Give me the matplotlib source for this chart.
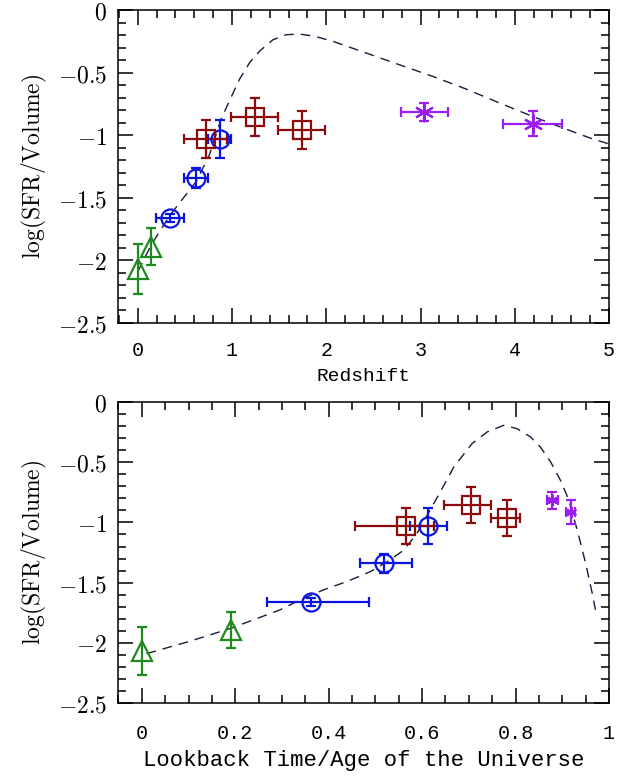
import numpy as np
import matplotlib
matplotlib.use("Agg")
import matplotlib.pyplot as plt
from matplotlib.ticker import MultipleLocator, FuncFormatter

plt.rcParams["mathtext.fontset"] = "cm"

# ---- top panel: redshift ----
tri_z = [0.0, 0.14]
tri_y = [-2.07, -1.89]
tri_yerr = [0.20, 0.15]

circ_z = [0.34, 0.62, 0.87]
circ_y = [-1.66, -1.34, -1.03]
circ_zerr = [0.15, 0.13, 0.12]
circ_yerr = [0.03, 0.08, 0.15]

sq_z = [0.72, 1.24, 1.74]
sq_y = [-1.03, -0.855, -0.96]
sq_zerr = [0.23, 0.25, 0.25]
sq_yerr = [0.15, 0.15, 0.15]

ast_z = [3.04, 4.19]
ast_y = [-0.815, -0.91]
ast_zerr = [0.25, 0.31]
ast_yerr = [0.07, 0.10]

curve_z = [0.0, 0.14, 0.34, 0.62, 0.76, 0.886, 0.99, 1.08, 1.187, 1.293, 1.435, 1.577,
           1.718, 1.878, 2.07, 2.32, 2.71, 3.13, 3.48, 3.83, 4.19, 4.54, 4.79, 5.0]
curve_zy = [-2.09, -1.88, -1.64, -1.37, -1.157, -0.868, -0.697, -0.552, -0.42, -0.328,
            -0.237, -0.197, -0.192, -0.21, -0.25, -0.316, -0.42, -0.53, -0.63, -0.74,
            -0.85, -0.95, -1.02, -1.07]

# ---- bottom panel: lookback time fraction ----
tri_t = [0.0, 0.19]
circ_t = [0.362, 0.518, 0.613]
circ_terr = [[0.094, 0.050, 0.038], [0.124, 0.061, 0.041]]
sq_t = [0.566, 0.704, 0.781]
sq_terr = [[0.110, 0.058, 0.033], [0.060, 0.044, 0.028]]
ast_t = [0.879, 0.918]
ast_terr = [0.011, 0.009]

curve_t = [0.01, 0.10, 0.19, 0.296, 0.339, 0.389, 0.439, 0.489, 0.532, 0.561, 0.589,
           0.639, 0.668, 0.707, 0.739, 0.775, 0.803, 0.832, 0.853, 0.875, 0.896,
           0.914, 0.932, 0.95, 0.964, 0.971]
curve_ty = [-2.09, -1.99, -1.88, -1.726, -1.643, -1.56, -1.491, -1.409, -1.31, -1.229,
            -1.09, -0.746, -0.538, -0.345, -0.249, -0.193, -0.221, -0.29, -0.373,
            -0.497, -0.649, -0.814, -1.063, -1.339, -1.587, -1.726]

green = "#1e8a1e"
blue = "#0a14e0"
red = "#8c0a0a"
purple = "#9a1ef0"
asterisk = (6, 2, 0)
mono = "Liberation Mono"

fig = plt.figure(figsize=(6.25, 7.77), dpi=100)
ax1 = fig.add_axes([0.1888, 0.5843, 0.7856, 0.4028])
ax2 = fig.add_axes([0.1888, 0.0952, 0.7856, 0.3874])

eb = dict(linestyle="none", mfc="none", elinewidth=1.6, capsize=3.5, capthick=1.6, mew=1.6)


def style(ax, xmaj, xmin, xpad):
    ax.set_ylim(-2.5, 0)
    ax.xaxis.set_major_locator(MultipleLocator(xmaj))
    ax.xaxis.set_minor_locator(MultipleLocator(xmin))
    ax.yaxis.set_major_locator(MultipleLocator(0.5))
    ax.yaxis.set_minor_locator(MultipleLocator(0.1))
    ax.tick_params(which="both", direction="in", top=True, right=True, width=1.1)
    ax.tick_params(which="major", length=10.5)
    ax.tick_params(which="minor", length=5.5)
    ax.tick_params(axis="y", labelsize=17, pad=8)
    ax.tick_params(axis="x", labelsize=14.5, pad=xpad)
    ax.yaxis.set_major_formatter(FuncFormatter(lambda v, p: r"$%g$" % v))
    ax.xaxis.set_major_formatter(FuncFormatter(lambda v, p: "%g" % v))
    for lab in ax.get_xticklabels():
        lab.set_family(mono)
    for s in ax.spines.values():
        s.set_linewidth(1.1)
    ax.set_ylabel(r"$\mathrm{log(SFR/Volume)}$", fontsize=17, labelpad=6)


# top
ax1.plot(curve_z, curve_zy, color="#1a1a3a", lw=1.0, dashes=(7, 5))
ax1.errorbar(tri_z, tri_y, yerr=tri_yerr, marker="^", ms=15, color=green, **eb)
ax1.errorbar(circ_z, circ_y, xerr=circ_zerr, yerr=circ_yerr, marker="o", ms=13, color=blue, **eb)
ax1.errorbar(sq_z, sq_y, xerr=sq_zerr, yerr=sq_yerr, marker="s", ms=13, color=red, **eb)
ax1.errorbar(ast_z, ast_y, xerr=ast_zerr, yerr=ast_yerr, marker=asterisk, ms=14, color=purple, **eb)
ax1.set_xlim(-0.21, 5)
style(ax1, 1, 0.2, 13)
ax1.set_xlabel("Redshift", family=mono, fontsize=14, labelpad=6)

# bottom
ax2.plot(curve_t, curve_ty, color="#1a1a3a", lw=1.0, dashes=(7, 5))
ax2.errorbar(tri_t, tri_y, yerr=tri_yerr, marker="^", ms=15, color=green, **eb)
ax2.errorbar(circ_t, circ_y, xerr=circ_terr, yerr=circ_yerr, marker="o", ms=13, color=blue, **eb)
ax2.errorbar(sq_t, sq_y, xerr=sq_terr, yerr=sq_yerr, marker="s", ms=13, color=red, **eb)
ax2.errorbar(ast_t, ast_y, xerr=ast_terr, yerr=ast_yerr, marker=asterisk, ms=8, color=purple, **eb)
ax2.set_xlim(-0.051, 1)
style(ax2, 0.2, 0.05, 15)
ax2.set_xlabel("Lookback Time/Age of the Universe", family=mono, fontsize=16, labelpad=5)

fig.savefig("out.png", dpi=100)
